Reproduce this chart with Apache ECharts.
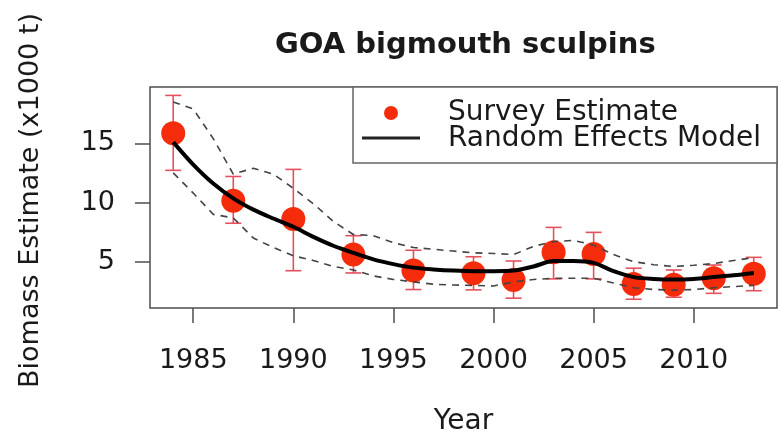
<!DOCTYPE html>
<html>
<head>
<meta charset="utf-8">
<script src="https://cdn.jsdelivr.net/npm/echarts@6/dist/echarts.min.js"></script>
<style>
html,body{margin:0;padding:0;background:#fff;}
#chart{width:779px;height:433px;}
</style>
</head>
<body>
<div id="chart"></div>
<script>
// ---- data ----
var surveyYears = [1984, 1987, 1990, 1993, 1996, 1999, 2001, 2003, 2005, 2007, 2009, 2011, 2013];
var surveyEst   = [15.85, 10.15, 8.6, 5.6, 4.25, 4.02, 3.45, 5.8, 5.65, 3.12, 3.05, 3.6, 3.98];
var surveyLo    = [12.72, 8.25, 4.24, 4.05, 2.65, 2.62, 1.92, 3.55, 3.55, 1.83, 2.0, 2.33, 2.55];
var surveyHi    = [19.05, 12.2, 12.8, 7.2, 5.97, 5.42, 5.06, 7.9, 7.48, 4.45, 4.3, 4.72, 5.37];

var modelYears = [1984,1985,1986,1987,1988,1989,1990,1991,1992,1993,1994,1995,1996,1997,1998,1999,2000,2001,2002,2003,2004,2005,2006,2007,2008,2009,2010,2011,2012,2013];
var modelEst = [15.1,13.2,11.6,10.35,9.4,8.65,7.95,7.1,6.35,5.75,5.2,4.8,4.5,4.35,4.25,4.2,4.2,4.25,4.6,5.05,5.05,4.9,4.2,3.7,3.55,3.5,3.55,3.7,3.85,4.05];
var modelHi  = [18.5,17.9,15.4,12.4,12.9,12.4,11.2,9.9,8.4,7.3,7.2,6.6,6.2,6.05,5.9,5.75,5.7,5.6,6.3,6.7,6.8,6.4,5.6,5.0,4.75,4.6,4.7,4.85,5.1,5.35];
var modelLo  = [12.5,10.8,9.0,8.7,7.0,6.2,5.5,5.1,4.6,4.3,3.8,3.5,3.3,3.1,3.03,3.0,2.95,3.3,3.5,3.6,3.6,3.6,3.2,2.8,2.65,2.6,2.65,2.8,2.9,3.0];

var xTicks = [1985, 1990, 1995, 2000, 2005, 2010];
var yTicks = [5, 10, 15];

var titleText = 'GOA bigmouth sculpins';
var xName = 'Year';
var yName = 'Biomass Estimate (x1000 t)';
var legendNames = ['Survey Estimate', 'Random Effects Model'];

// ---- build ----
var FONT = 'DejaVu Sans';
var RED = '#f42c0c';
var BAR = '#e4505c';

function pairs(xs, ys) { return xs.map(function (x, i) { return [x, ys[i]]; }); }
var barData = surveyYears.map(function (y, i) { return [y, surveyLo[i], surveyHi[i]]; });

var chart = echarts.init(document.getElementById('chart'), null, {renderer: 'canvas'});
chart.setOption({
  animation: false,
  backgroundColor: '#fff',
  title: {
    text: titleText, left: 275, top: 31, padding: 0,
    textStyle: {fontFamily: FONT, fontSize: 29, fontWeight: 'bold', color: '#1a1a1a'}
  },
  grid: {left: 150, right: 2, top: 87, bottom: 125, show: true, borderColor: '#4d4d4d', borderWidth: 1.5,
    backgroundColor: 'transparent', containLabel: false, outerBoundsMode: 'none'},
  xAxis: {
    type: 'value', min: 1982.84, max: 2014.16,
    splitLine: {show: false},
    axisLine: {show: false},
    axisTick: {show: true, customValues: xTicks, length: 15, lineStyle: {color: '#4d4d4d', width: 1.5}},
    axisLabel: {customValues: xTicks, margin: 39, fontFamily: FONT, fontSize: 27, color: '#1a1a1a',
      formatter: function (v) { return String(v); }},
    name: xName, nameLocation: 'middle', nameGap: 100,
    nameTextStyle: {fontFamily: FONT, fontSize: 28, color: '#1a1a1a'}
  },
  yAxis: {
    type: 'value', min: 1.09, max: 19.76,
    splitLine: {show: false},
    axisLine: {show: false},
    axisTick: {show: true, customValues: yTicks, length: 15, lineStyle: {color: '#4d4d4d', width: 1.5}},
    axisLabel: {customValues: yTicks, margin: 35, fontFamily: FONT, fontSize: 27, color: '#1a1a1a',
      formatter: function (v) { return String(v); }},
    name: yName, nameLocation: 'middle', nameRotate: 90, nameGap: 106,
    nameTextStyle: {fontFamily: FONT, fontSize: 27, color: '#1a1a1a', padding: [0, 6, 0, 0]}
  },
  series: [
    {
      type: 'custom', name: 'errbars', z: 2,
      data: barData,
      renderItem: function (params, api) {
        var x = api.value(0);
        var lo = api.coord([x, api.value(1)]);
        var hi = api.coord([x, api.value(2)]);
        var w = 8;
        var st = {stroke: BAR, lineWidth: 1.6};
        return {type: 'group', children: [
          {type: 'line', shape: {x1: lo[0], y1: lo[1], x2: hi[0], y2: hi[1]}, style: st},
          {type: 'line', shape: {x1: lo[0] - w, y1: lo[1], x2: lo[0] + w, y2: lo[1]}, style: st},
          {type: 'line', shape: {x1: hi[0] - w, y1: hi[1], x2: hi[0] + w, y2: hi[1]}, style: st}
        ]};
      }
    },
    {
      type: 'scatter', name: legendNames[0], z: 3,
      data: pairs(surveyYears, surveyEst),
      symbol: 'circle', symbolSize: 24,
      itemStyle: {color: RED, opacity: 1}
    },
    {
      type: 'line', name: 'upper', z: 4, data: pairs(modelYears, modelHi),
      symbol: 'none', smooth: false,
      lineStyle: {color: '#444', width: 1.6, type: [7, 6]}
    },
    {
      type: 'line', name: 'lower', z: 4, data: pairs(modelYears, modelLo),
      symbol: 'none', smooth: false,
      lineStyle: {color: '#444', width: 1.6, type: [7, 6]}
    },
    {
      type: 'line', name: legendNames[1], z: 5, data: pairs(modelYears, modelEst),
      symbol: 'none', smooth: 0.3,
      lineStyle: {color: '#000', width: 4}
    }
  ],
  graphic: [
    {type: 'rect', z: 100, shape: {x: 353, y: 87, width: 424, height: 76},
     style: {fill: '#fff', stroke: '#666', lineWidth: 1.5}},
    {type: 'circle', z: 101, shape: {cx: 391, cy: 113, r: 7}, style: {fill: RED}},
    {type: 'line', z: 101, shape: {x1: 362, y1: 138, x2: 420, y2: 138}, style: {stroke: '#222', lineWidth: 3}},
    {type: 'text', z: 101, x: 448, y: 113,
     style: {text: legendNames[0], fontFamily: FONT, fontSize: 28, fill: '#1a1a1a', textVerticalAlign: 'middle', verticalAlign: 'middle'}},
    {type: 'text', z: 101, x: 448, y: 139,
     style: {text: legendNames[1], fontFamily: FONT, fontSize: 28, fill: '#1a1a1a', textVerticalAlign: 'middle', verticalAlign: 'middle'}}
  ]
});
</script>
</body>
</html>
